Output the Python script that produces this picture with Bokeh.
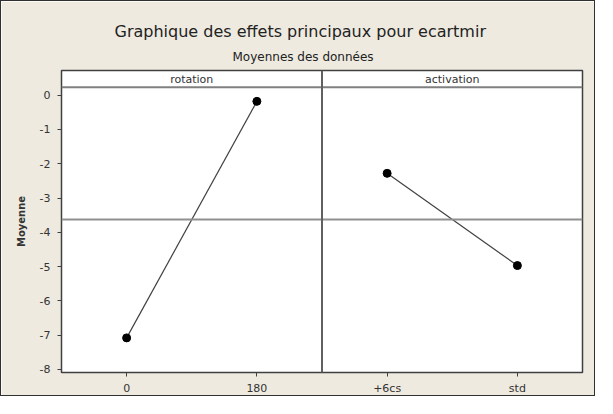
from bokeh.plotting import figure
from bokeh.models import Title, Span, FixedTicker, ColumnDataSource
from bokeh.core.properties import value
from bokeh.embed import file_html
from bokeh.resources import INLINE

# data
factors = ["rotation", "activation"]
levels_rotation = ["0", "180"]
levels_activation = ["+6cs", "std"]
means_rotation = [-7.08, -0.18]
means_activation = [-2.28, -4.97]
y_ticks = [0, -1, -2, -3, -4, -5, -6, -7, -8]
y_tick_labels = ["0", "-1", "-2", "-3", "-4", "-5", "-6", "-7", "-8"]
grand_mean = (sum(means_rotation) + sum(means_activation)) / 4

BG = "#EEEAE0"
FONT = "DejaVu Sans"

p = figure(width=595, height=396, output_backend="svg", toolbar_location=None,
           x_range=(0, 4), y_range=(-8.09, 0.72),
           min_border_left=60, min_border_right=14, min_border_top=69, min_border_bottom=23)
p.styles = {"border": "1px solid #303030"}
p.border_fill_color = BG
p.background_fill_color = "white"
p.outline_line_color = "#404040"
p.outline_line_width = 1.5
p.grid.visible = False

# titles (later added sits higher)
p.add_layout(Title(text="Moyennes des données", align="left", offset=171,
                   text_font=FONT, text_font_size="12px", text_font_style="normal",
                   text_color="#222222", standoff=14), "above")
p.add_layout(Title(text="Graphique des effets principaux pour ecartmir", align="left", offset=53,
                   text_font=FONT, text_font_size="16px", text_font_style="normal",
                   text_color="#222222", standoff=0), "above")

# axes
xpos = [0.5, 1.5, 2.5, 3.5]
xlabels = levels_rotation + levels_activation
p.xaxis.ticker = FixedTicker(ticks=xpos)
p.xaxis.major_label_overrides = {x: l for x, l in zip(xpos, xlabels)}
p.yaxis.ticker = FixedTicker(ticks=y_ticks)
p.yaxis.major_label_overrides = {t: l for t, l in zip(y_ticks, y_tick_labels)}
for ax in (p.xaxis, p.yaxis):
    ax.axis_line_color = None
    ax.major_tick_line_color = "#404040"
    ax.major_tick_out = 4
    ax.major_tick_in = 0
    ax.minor_tick_line_color = None
    ax.major_label_text_font = FONT
    ax.major_label_text_font_size = "11px"
    ax.major_label_text_color = "#333333"
    ax.major_label_standoff = 5
p.yaxis.major_label_standoff = 7
p.yaxis.axis_label = "Moyenne"
p.yaxis.axis_label_text_font = FONT
p.yaxis.axis_label_text_font_size = "10px"
p.yaxis.axis_label_text_font_style = "bold"
p.yaxis.axis_label_text_color = "#333333"
p.yaxis.axis_label_standoff = 10

# grand mean reference line
p.add_layout(Span(location=grand_mean, dimension="width", line_color="#909090", line_width=2))
# strip line & panel divider
p.add_layout(Span(location=0.23, dimension="width", line_color="#808080", line_width=2))
p.add_layout(Span(location=2, dimension="height", line_color="#606060", line_width=2))

# strip labels
p.text(x=[1, 3], y=[0.47, 0.47], text=factors, text_align="center", text_baseline="middle",
       text_font=value(FONT), text_font_size="11px", text_color="#333333")

# data
src_r = ColumnDataSource(dict(x=[0.5, 1.5], y=means_rotation))
src_a = ColumnDataSource(dict(x=[2.5, 3.5], y=means_activation))
for s in (src_r, src_a):
    p.line("x", "y", source=s, line_color="#404040", line_width=1.2)
    p.scatter("x", "y", source=s, size=8, color="black")

open("out.html", "w").write(file_html(p, INLINE))
